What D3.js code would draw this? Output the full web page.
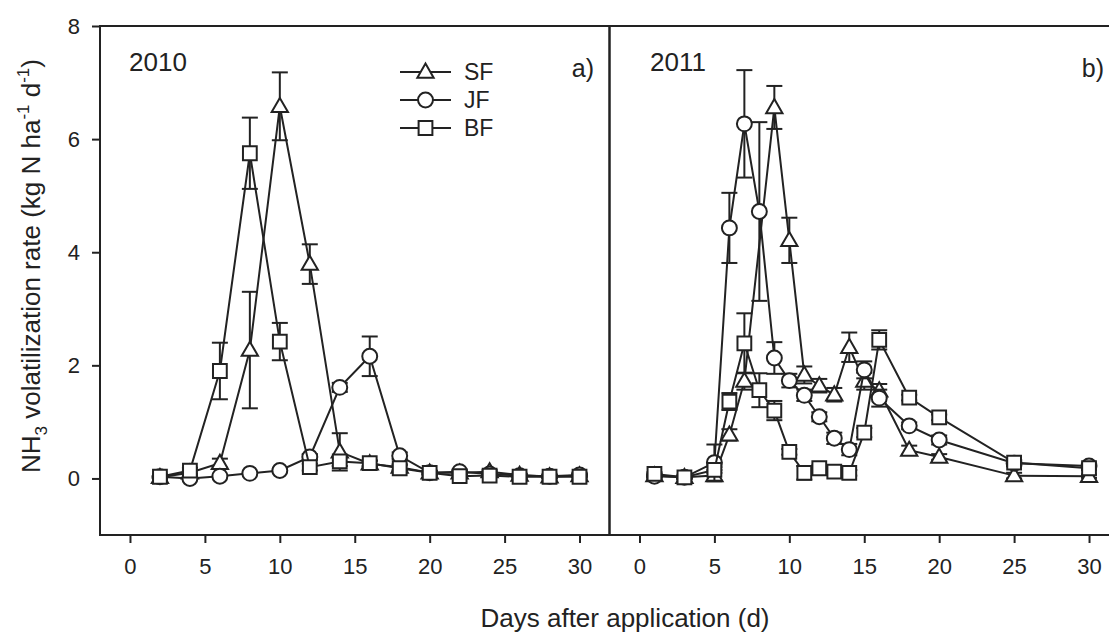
<!DOCTYPE html>
<html>
<head>
<meta charset="utf-8">
<script src="https://cdn.jsdelivr.net/npm/d3@7"></script>
<style>
    body { margin: 0; background: #fff; }
    text { font-family: Arial, "Liberation Sans", sans-serif; fill: #222; }
</style>
</head>
<body>
<svg id="chart" width="1109" height="633"></svg>
<script>
// 2010 campaign, sampled every second day
let days2010 = [2, 4, 6, 8, 10, 12, 14, 16, 18, 20, 22, 24, 26, 28, 30];
let sf2010 = [0.02, 0.1, 0.27, 2.27, 6.58, 3.79, 0.47, 0.26, 0.2, 0.1, 0.1, 0.12, 0.06, 0.03, 0.05];
let sf2010Err = [0.02, 0.04, 0.08, 1.03, 0.6, 0.35, 0.33, 0.05, 0.05, 0.03, 0.03, 0.03, 0.02, 0.02, 0.02];
let jf2010 = [0.03, 0.0, 0.04, 0.09, 0.14, 0.38, 1.61, 2.16, 0.4, 0.1, 0.12, 0.08, 0.05, 0.04, 0.06];
let jf2010Err = [0.02, 0.02, 0.02, 0.02, 0.03, 0.05, 0.08, 0.35, 0.06, 0.03, 0.03, 0.02, 0.02, 0.02, 0.02];
let bf2010 = [0.03, 0.14, 1.9, 5.75, 2.42, 0.2, 0.3, 0.27, 0.18, 0.1, 0.04, 0.05, 0.03, 0.03, 0.03];
let bf2010Err = [0.02, 0.05, 0.5, 0.63, 0.33, 0.06, 0.08, 0.05, 0.05, 0.03, 0.02, 0.02, 0.02, 0.02, 0.02];

// 2011 campaign, daily at the start (null = no SF sample that day)
let days2011 = [1, 3, 5, 6, 7, 8, 9, 10, 11, 12, 13, 14, 15, 16, 18, 20, 25, 30];
let sf2011 = [0.05, 0.02, 0.05, 0.77, 1.72, null, 6.56, 4.21, 1.83, 1.64, 1.48, 2.32, 1.72, 1.55, 0.5, 0.38, 0.05, 0.04];
let sf2011Err = [0.03, 0.02, 0.1, 0.1, 0.15, null, 0.38, 0.4, 0.15, 0.12, 0.12, 0.26, 0.15, 0.12, 0.08, 0.05, 0.05, 0.03];
let jf2011 = [0.04, 0.02, 0.28, 4.43, 6.27, 4.72, 2.13, 1.73, 1.47, 1.09, 0.71, 0.51, 1.92, 1.42, 0.93, 0.68, 0.27, 0.22];
let jf2011Err = [0.02, 0.02, 0.32, 0.62, 0.95, 1.58, 0.28, 0.12, 0.1, 0.08, 0.1, 0.1, 0.15, 0.15, 0.06, 0.08, 0.05, 0.03];
let bf2011 = [0.08, 0.02, 0.15, 1.36, 2.39, 1.56, 1.2, 0.47, 0.1, 0.18, 0.12, 0.1, 0.81, 2.45, 1.43, 1.08, 0.28, 0.18];
let bf2011Err = [0.03, 0.02, 0.05, 0.15, 0.53, 0.3, 0.17, 0.05, 0.12, 0.05, 0.05, 0.05, 0.08, 0.17, 0.05, 0.05, 0.05, 0.03];

let seriesNames = ['SF', 'JF', 'BF'];
let xTicks = [0, 5, 10, 15, 20, 25, 30];
let yTicks = [0, 2, 4, 6, 8];

let ink = '#222';
let svg = d3.select('#chart');

// shared y scale, one x scale per panel
let yScale = d3.scaleLinear().domain([-1, 8]).range([535, 26]);
let xLeft = d3.scaleLinear().domain([-2, 32]).range([100, 609.5]);
let xRight = d3.scaleLinear().domain([-2, 32]).range([609.5, 1119]);

let symbolOf = {
    SF: d3.symbol().type(d3.symbolTriangle).size(115),
    JF: d3.symbol().type(d3.symbolCircle).size(175),
    BF: d3.symbol().type(d3.symbolSquare).size(190)
};

function toPoints(days, values, errors) {
    return days.map((d, i) => ({day: d, value: values[i], err: errors[i]}))
        .filter(p => p.value !== null);
}

function drawSeries(g, xScale, name, points) {
    let group = g.append('g').attr('class', 'series-' + name);

    // error bars with caps on both ends
    let bars = group.selectAll('.err').data(points).enter().append('g').attr('class', 'err');
    bars.append('line')
        .attr('x1', d => xScale(d.day)).attr('x2', d => xScale(d.day))
        .attr('y1', d => yScale(d.value - d.err)).attr('y2', d => yScale(d.value + d.err));
    bars.append('line')
        .attr('x1', d => xScale(d.day) - 8).attr('x2', d => xScale(d.day) + 8)
        .attr('y1', d => yScale(d.value + d.err)).attr('y2', d => yScale(d.value + d.err));
    bars.append('line')
        .attr('x1', d => xScale(d.day) - 8).attr('x2', d => xScale(d.day) + 8)
        .attr('y1', d => yScale(d.value - d.err)).attr('y2', d => yScale(d.value - d.err));
    bars.selectAll('line').attr('stroke', ink).attr('stroke-width', 2);

    let line = d3.line()
        .x(d => xScale(d.day))
        .y(d => yScale(d.value));
    group.append('path')
        .datum(points)
        .attr('d', line)
        .attr('fill', 'none')
        .attr('stroke', ink)
        .attr('stroke-width', 2);

    group.selectAll('.marker').data(points).enter().append('path')
        .attr('class', 'marker')
        .attr('d', symbolOf[name])
        .attr('transform', d => `translate(${xScale(d.day)},${yScale(d.value) + (name === 'SF' ? 1 : 0)})`)
        .attr('fill', '#fff')
        .attr('stroke', ink)
        .attr('stroke-width', 2);
}

function drawXAxis(xScale) {
    let axis = svg.append('g')
        .attr('transform', 'translate(0,535)')
        .call(d3.axisBottom(xScale).tickValues(xTicks).tickSize(8).tickSizeOuter(0).tickPadding(15));
    axis.select('.domain').remove();
    axis.selectAll('line').attr('stroke', ink).attr('stroke-width', 2);
    axis.selectAll('text').style('font-size', '22px').attr('fill', ink);
}

// panels
let left = svg.append('g');
let right = svg.append('g');
drawSeries(left, xLeft, 'SF', toPoints(days2010, sf2010, sf2010Err));
drawSeries(left, xLeft, 'JF', toPoints(days2010, jf2010, jf2010Err));
drawSeries(left, xLeft, 'BF', toPoints(days2010, bf2010, bf2010Err));
drawSeries(right, xRight, 'SF', toPoints(days2011, sf2011, sf2011Err));
drawSeries(right, xRight, 'JF', toPoints(days2011, jf2011, jf2011Err));
drawSeries(right, xRight, 'BF', toPoints(days2011, bf2011, bf2011Err));

// frames
[xLeft, xRight].forEach(xs => {
    svg.append('rect')
        .attr('x', xs.range()[0]).attr('y', yScale(8))
        .attr('width', xs.range()[1] - xs.range()[0])
        .attr('height', yScale(-1) - yScale(8))
        .attr('fill', 'none').attr('stroke', ink).attr('stroke-width', 2);
});

drawXAxis(xLeft);
drawXAxis(xRight);

let yAxis = svg.append('g')
    .attr('transform', 'translate(100,0)')
    .call(d3.axisLeft(yScale).tickValues(yTicks).tickSize(8).tickSizeOuter(0).tickPadding(12));
yAxis.select('.domain').remove();
yAxis.selectAll('line').attr('stroke', ink).attr('stroke-width', 2);
yAxis.selectAll('text').style('font-size', '22px').attr('fill', ink);

// panel labels
svg.append('text').attr('x', 129).attr('y', 71).style('font-size', '26px').text('2010');
svg.append('text').attr('x', 594).attr('y', 77).attr('text-anchor', 'end').style('font-size', '25px').text('a)');
svg.append('text').attr('x', 650).attr('y', 71).style('font-size', '26px').text('2011');
svg.append('text').attr('x', 1104).attr('y', 77).attr('text-anchor', 'end').style('font-size', '25px').text('b)');

// legend
let legend = svg.append('g').attr('transform', 'translate(400,72)');
seriesNames.forEach((name, i) => {
    let row = legend.append('g').attr('transform', `translate(0,${i * 28})`);
    row.append('line').attr('x1', 0).attr('x2', 51).attr('y1', 0).attr('y2', 0)
        .attr('stroke', ink).attr('stroke-width', 2);
    row.append('path').attr('d', symbolOf[name])
        .attr('transform', `translate(25.5,${name === 'SF' ? 1 : 0})`)
        .attr('fill', '#fff').attr('stroke', ink).attr('stroke-width', 2);
    row.append('text').attr('x', 64).attr('y', 8).style('font-size', '23px').text(name);
});

// axis titles
svg.append('text')
    .attr('x', 625).attr('y', 627)
    .attr('text-anchor', 'middle')
    .style('font-size', '26px')
    .text('Days after application (d)');

let yTitle = svg.append('text')
    .attr('transform', 'translate(40,266) rotate(-90)')
    .attr('text-anchor', 'middle')
    .style('font-size', '26px');
yTitle.append('tspan').text('NH');
yTitle.append('tspan').attr('dy', 7).style('font-size', '17px').text('3');
yTitle.append('tspan').attr('dy', -7).text(' volatilization rate (kg N ha');
yTitle.append('tspan').attr('dy', -11).style('font-size', '17px').text('-1');
yTitle.append('tspan').attr('dy', 11).text(' d');
yTitle.append('tspan').attr('dy', -11).style('font-size', '17px').text('-1');
yTitle.append('tspan').attr('dy', 11).text(')');
</script>
</body>
</html>
